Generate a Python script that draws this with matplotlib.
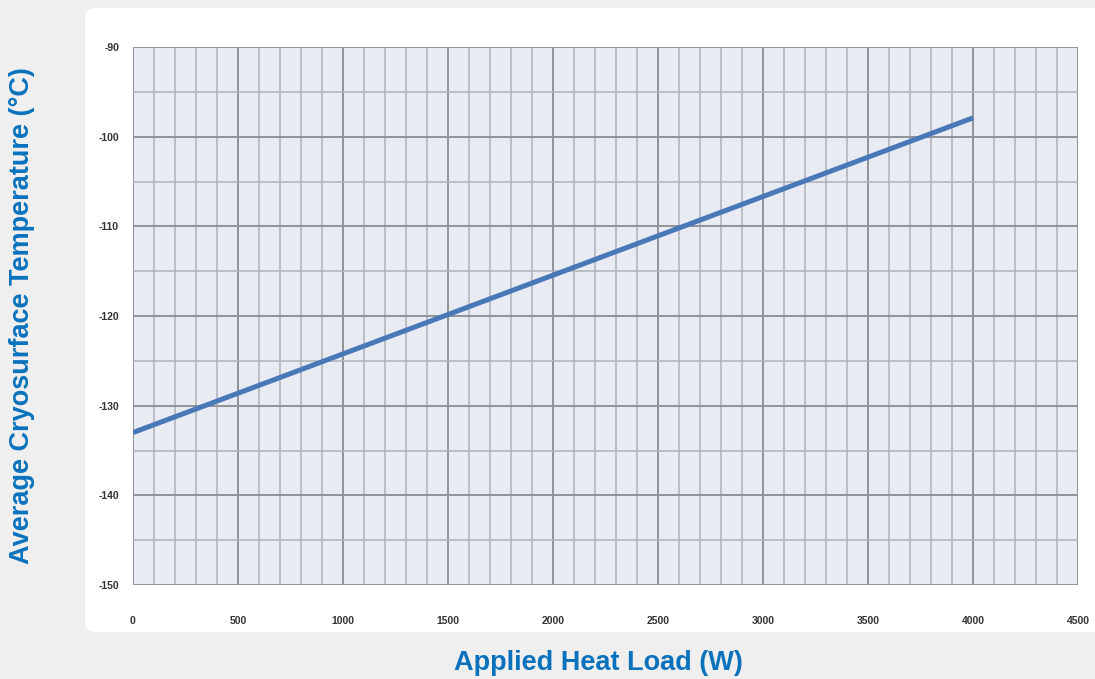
import numpy as np
import matplotlib.pyplot as plt
from matplotlib.patches import FancyBboxPatch
from matplotlib.ticker import MultipleLocator

# ----------------------------
# Datos
# ----------------------------
heat_load = [0, 4000]          # W
temperature = [-133.0, -97.9]  # °C
x_ticks = [0, 500, 1000, 1500, 2000, 2500, 3000, 3500, 4000, 4500]
y_ticks = [-150, -140, -130, -120, -110, -100, -90]

BLUE = '#0a72bd'

plt.rcParams['font.family'] = ['Liberation Sans', 'DejaVu Sans']
plt.rcParams['axes.unicode_minus'] = False

fig = plt.figure(figsize=(10.95, 6.79), dpi=100)
fig.patch.set_facecolor('#efefef')

# panel blanco con esquinas redondeadas
panel = FancyBboxPatch((85 / 1095, 1 - 632 / 679), 1.05 - 85 / 1095, (632 - 8) / 679,
                       boxstyle='round,pad=0,rounding_size=0.012',
                       transform=fig.transFigure, facecolor='white',
                       edgecolor='none', zorder=-5)
fig.patches.append(panel)

ax = fig.add_axes([133 / 1095, 1 - 585 / 679, (1078 - 133) / 1095, (585 - 47) / 679])
ax.set_zorder(2)
ax.set_facecolor('#e8ebf2')

ax.plot(heat_load, temperature, color='#4878b8', linewidth=3.6,
        solid_capstyle='butt', zorder=3)

ax.set_xlim(0, 4500)
ax.set_ylim(-150, -90)
ax.set_xticks(x_ticks)
ax.set_yticks(y_ticks)
ax.xaxis.set_minor_locator(MultipleLocator(100))
ax.yaxis.set_minor_locator(MultipleLocator(5))

ax.grid(True, which='major', color='#8f9297', linewidth=1.4, zorder=1)
ax.grid(True, which='minor', color='#aeb1b7', linewidth=1.1, zorder=1)
ax.set_axisbelow(True)

for s in ax.spines.values():
    s.set_visible(False)

ax.tick_params(which='both', length=0)
ax.tick_params(axis='x', pad=22, labelsize=7.5, labelcolor='#333333')
ax.tick_params(axis='y', pad=10, labelsize=7.5, labelcolor='#333333')
for lbl in ax.get_xticklabels() + ax.get_yticklabels():
    lbl.set_fontweight('bold')

fig.text(598 / 1095, 1 - 663 / 679, 'Applied Heat Load (W)', color=BLUE,
         fontsize=19.5, fontweight='bold', ha='center', va='center')
fig.text(22 / 1095, 1 - 316 / 679, 'Average Cryosurface Temperature (°C)', color=BLUE,
         fontsize=19.5, fontweight='bold', ha='center', va='center', rotation=90)

fig.savefig('out.png', dpi=100, facecolor=fig.get_facecolor())
